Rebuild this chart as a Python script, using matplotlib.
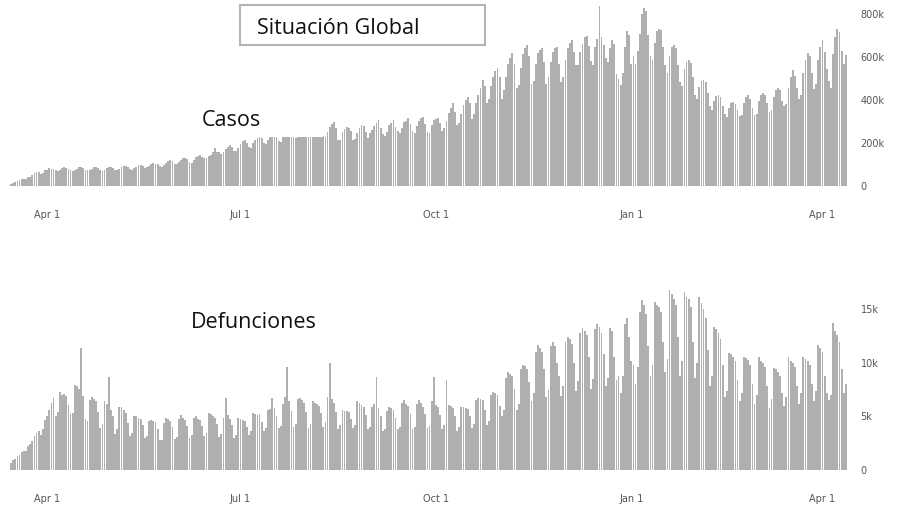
import numpy as np
import pandas as pd
import matplotlib

matplotlib.use("Agg")
from matplotlib import pyplot as plt
from matplotlib.patches import Rectangle

# daily values, one row per week (Sun..Sat), starting Sunday 2020-03-15
start_date = "2020-03-15"

cases_k = [
    [11, 14, 17, 24, 29, 32, 33],
    [33, 41, 42, 50, 62, 64, 63],
    [58, 60, 75, 76, 82, 80, 78],
    [72, 70, 75, 82, 86, 85, 80],
    [72, 70, 72, 80, 88, 86, 82],
    [76, 73, 76, 80, 88, 90, 85],
    [74, 70, 74, 82, 86, 88, 84],
    [76, 74, 80, 86, 92, 92, 88],
    [78, 76, 84, 90, 96, 98, 94],
    [82, 86, 92, 100, 105, 104, 100],
    [92, 88, 96, 106, 118, 120, 114],
    [104, 102, 112, 120, 128, 130, 126],
    [112, 108, 122, 134, 140, 142, 136],
    [128, 130, 138, 144, 160, 176, 160],
    [158, 148, 160, 172, 180, 190, 180],
    [164, 162, 178, 196, 210, 212, 198],
    [182, 176, 202, 214, 222, 236, 222],
    [200, 196, 214, 228, 242, 248, 238],
    [210, 206, 232, 250, 266, 280, 258],
    [228, 222, 250, 266, 286, 288, 268],
    [228, 226, 256, 272, 280, 290, 262],
    [230, 228, 250, 276, 290, 296, 268],
    [212, 214, 250, 266, 273, 270, 256],
    [214, 220, 248, 268, 282, 278, 252],
    [222, 244, 258, 280, 292, 305, 270],
    [240, 234, 250, 282, 292, 305, 276],
    [256, 246, 270, 296, 304, 315, 286],
    [254, 248, 278, 300, 316, 319, 290],
    [252, 244, 282, 306, 312, 315, 292],
    [256, 270, 300, 340, 362, 384, 346],
    [284, 292, 334, 378, 400, 412, 384],
    [310, 334, 384, 424, 456, 491, 466],
    [384, 404, 466, 504, 536, 546, 506],
    [404, 446, 506, 566, 594, 620, 566],
    [456, 468, 546, 612, 640, 653, 604],
    [474, 486, 566, 616, 632, 639, 576],
    [476, 504, 574, 622, 640, 644, 566],
    [484, 506, 584, 640, 664, 676, 624],
    [560, 560, 622, 660, 690, 699, 648],
    [582, 564, 644, 684, 838, 690, 656],
    [596, 574, 640, 676, 660, 520, 496],
    [468, 526, 646, 722, 700, 566, 604],
    [566, 626, 706, 800, 829, 812, 702],
    [604, 584, 666, 722, 731, 724, 644],
    [564, 524, 604, 646, 653, 640, 564],
    [484, 466, 542, 576, 583, 572, 504],
    [424, 404, 462, 486, 491, 482, 432],
    [372, 352, 394, 416, 421, 412, 372],
    [334, 322, 364, 384, 389, 382, 352],
    [324, 332, 384, 414, 421, 404, 362],
    [332, 334, 394, 424, 430, 422, 384],
    [344, 352, 414, 446, 454, 444, 394],
    [372, 382, 454, 504, 537, 512, 454],
    [404, 424, 524, 584, 616, 602, 524],
    [452, 472, 584, 644, 676, 624, 544],
    [486, 454, 612, 690, 731, 716, 626],
    [566, 610],
]

deaths_k = [
    [0.7, 0.9, 1.0, 1.3, 1.4, 1.7, 1.8],
    [1.8, 2.2, 2.4, 2.7, 3.2, 3.5, 3.6],
    [3.3, 3.8, 4.7, 5.0, 5.6, 6.3, 6.7],
    [5.0, 5.4, 7.3, 7.0, 7.1, 6.9, 6.1],
    [5.2, 5.3, 7.9, 7.8, 7.6, 11.4, 6.9],
    [4.8, 4.6, 6.5, 6.8, 6.6, 6.4, 5.4],
    [3.9, 4.3, 6.4, 6.2, 8.7, 5.6, 5.0],
    [3.4, 3.8, 5.9, 5.9, 5.6, 5.3, 4.4],
    [3.2, 3.5, 5.0, 5.0, 4.9, 4.8, 4.2],
    [3.0, 3.2, 4.6, 4.7, 4.6, 4.5, 3.8],
    [2.8, 2.8, 4.4, 4.9, 4.8, 4.6, 4.0],
    [2.9, 3.1, 4.8, 5.1, 4.9, 4.7, 4.1],
    [3.0, 3.3, 4.9, 5.0, 4.8, 4.7, 4.1],
    [3.2, 3.5, 5.3, 5.2, 5.0, 4.9, 4.3],
    [3.1, 3.4, 4.9, 6.7, 5.1, 4.8, 4.2],
    [3.0, 3.3, 4.9, 4.8, 4.7, 4.6, 4.0],
    [3.3, 3.6, 5.3, 5.2, 5.1, 5.2, 4.5],
    [3.6, 3.9, 5.6, 5.7, 6.7, 5.8, 5.0],
    [3.9, 4.1, 6.2, 6.8, 9.6, 6.4, 5.5],
    [4.0, 4.3, 6.6, 6.7, 6.5, 6.3, 5.4],
    [3.9, 4.3, 6.4, 6.3, 6.2, 6.0, 5.3],
    [4.0, 4.5, 6.8, 10.0, 6.6, 6.3, 5.4],
    [3.8, 4.2, 5.6, 5.5, 5.5, 5.4, 4.8],
    [3.9, 4.2, 6.4, 6.3, 6.1, 5.9, 5.1],
    [3.8, 4.0, 5.9, 6.2, 8.7, 5.8, 5.0],
    [3.6, 3.8, 5.5, 5.9, 5.8, 5.6, 4.9],
    [3.8, 4.0, 6.3, 6.5, 6.2, 6.0, 5.2],
    [3.8, 4.0, 6.2, 6.5, 6.3, 5.9, 5.2],
    [3.9, 4.1, 6.4, 8.7, 6.1, 5.9, 5.1],
    [3.8, 4.2, 8.4, 6.1, 6.0, 5.8, 5.0],
    [3.6, 4.0, 5.9, 5.9, 5.8, 5.7, 5.0],
    [3.9, 4.3, 6.5, 6.7, 6.6, 6.5, 5.6],
    [4.2, 4.6, 7.0, 7.3, 7.2, 7.0, 6.0],
    [5.0, 5.6, 8.6, 9.2, 9.0, 8.8, 7.6],
    [5.6, 6.2, 9.4, 9.8, 9.7, 9.4, 8.2],
    [6.4, 7.2, 11.0, 11.7, 11.4, 11.0, 9.4],
    [6.8, 7.5, 11.6, 12.0, 11.6, 10.0, 8.8],
    [6.9, 7.8, 12.0, 12.4, 12.2, 11.8, 10.0],
    [7.4, 8.3, 12.8, 13.3, 13.0, 12.6, 10.6],
    [7.6, 8.5, 13.2, 13.6, 13.4, 12.8, 10.8],
    [7.8, 8.6, 13.3, 13.0, 10.6, 8.4, 8.8],
    [7.2, 8.8, 13.6, 14.2, 12.4, 10.2, 9.8],
    [8.0, 9.6, 14.8, 15.9, 15.4, 14.6, 11.6],
    [8.8, 9.8, 15.7, 15.4, 15.2, 14.8, 12.0],
    [9.2, 10.4, 16.8, 16.4, 16.0, 15.4, 12.4],
    [8.8, 10.2, 16.6, 16.2, 16.0, 15.2, 12.0],
    [8.6, 10.0, 16.2, 15.6, 15.0, 14.2, 11.2],
    [7.8, 8.8, 13.4, 13.2, 12.8, 12.2, 9.8],
    [6.8, 7.4, 10.9, 10.8, 10.6, 10.2, 8.4],
    [6.4, 7.2, 10.6, 10.5, 10.3, 9.8, 8.0],
    [6.2, 7.0, 10.6, 10.2, 10.0, 9.6, 7.8],
    [5.8, 6.6, 9.5, 9.4, 9.2, 8.8, 7.2],
    [6.0, 6.8, 10.6, 10.2, 10.0, 9.6, 7.8],
    [6.2, 7.2, 10.6, 10.4, 10.2, 9.8, 8.0],
    [6.4, 7.4, 11.7, 11.4, 11.0, 8.8, 7.2],
    [6.5, 7.0, 13.7, 13.0, 12.6, 12.0, 9.4],
    [7.2, 8.0],
]

tick_dates = ["2020-04-01", "2020-07-01", "2020-10-01", "2021-01-01", "2021-04-01"]
tick_labels = ["Apr 1", "Jul 1", "Oct 1", "Jan 1", "Apr 1"]

cases_yticks = [0, 200, 400, 600, 800]
cases_ylabels = ["0", "200k", "400k", "600k", "800k"]
deaths_yticks = [0, 5, 10, 15]
deaths_ylabels = ["0", "5k", "10k", "15k"]

cases = np.concatenate(cases_k)
deaths = np.concatenate(deaths_k)
dates = pd.date_range(start_date, periods=len(cases), freq="D")

W, H = 897, 512
fig = plt.figure(figsize=(W / 100, H / 100), dpi=100)


def px_axes(left, top, right, bottom):
    return fig.add_axes([left / W, 1 - bottom / H, (right - left) / W, (bottom - top) / H])


ax1 = px_axes(10, 3, 848, 186)
ax2 = px_axes(10, 288, 848, 470)

bar_color = "#afafaf"
for ax, vals, yt, yl, ymax in [
    (ax1, cases, cases_yticks, cases_ylabels, 850),
    (ax2, deaths, deaths_yticks, deaths_ylabels, 17.0),
]:
    ax.bar(dates, vals, width=0.85, color=bar_color, linewidth=0)
    ax.set_xlim(dates[0] - pd.Timedelta(hours=12), dates[-1] + pd.Timedelta(days=1))
    ax.set_ylim(0, ymax)
    ax.yaxis.tick_right()
    ax.set_yticks(yt)
    ax.set_yticklabels(yl)
    ax.set_xticks(pd.to_datetime(tick_dates))
    ax.set_xticklabels(tick_labels)
    ax.tick_params(length=0, labelsize=7, colors="#555555")
    ax.tick_params(axis="y", pad=9)
    ax.tick_params(axis="x", pad=17)
    for s in ax.spines.values():
        s.set_visible(False)
    ax.set_facecolor("none")

# title box
fig.add_artist(Rectangle((240 / W, 1 - 45 / H), 245 / W, 40 / H, transform=fig.transFigure,
                         fill=False, edgecolor="#b4b4b4", linewidth=1.5, zorder=5))
fig.text(257 / W, 1 - 28 / H, "Situación Global", fontsize=15.5, family="Open Sans",
         va="center", ha="left", color="#111111", zorder=6)

# white patch behind "Casos" covering the bars
fig.add_artist(Rectangle((195 / W, 1 - 137 / H), 128 / W, 32 / H, transform=fig.transFigure,
                         facecolor="white", edgecolor="none", zorder=5))
fig.text(202 / W, 1 - 121 / H, "Casos", fontsize=15.5, family="Open Sans",
         va="center", ha="left", color="#111111", zorder=6)
fig.text(191 / W, 1 - 322 / H, "Defunciones", fontsize=15.5, family="Open Sans",
         va="center", ha="left", color="#111111", zorder=6)

fig.savefig("out.png", dpi=100)
